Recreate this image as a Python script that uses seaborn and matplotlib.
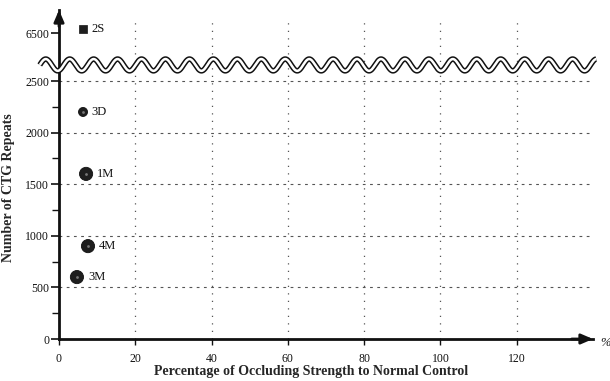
import numpy as np
import pandas as pd
import matplotlib
matplotlib.use("Agg")
import matplotlib.pyplot as plt
import seaborn as sns

# ---- data ----
labels_circ = ["3D", "1M", "4M", "3M"]
pct_circ = [6.3, 7.1, 7.6, 4.7]
ctg_circ = [2200, 1600, 900, 600]
size_circ = [42, 90, 90, 90]

labels_sq = ["2S"]
pct_sq = [6.3]
ctg_sq = [6540]

yticks_major = [0, 500, 1000, 1500, 2000, 2500, 6500]
yticks_minor = [250, 750, 1250, 1750, 2250]
xticks = [0, 20, 40, 60, 80, 100, 120]

# ---- broken y scale ----
B0, B1, GAP = 2600.0, 6350.0, 215.0
S = GAP / (B1 - B0)

def fwd(y):
    y = np.asarray(y, float)
    return np.where(y <= B0, y, np.where(y <= B1, B0 + (y - B0) * S, B0 + GAP + (y - B1)))

def inv(v):
    v = np.asarray(v, float)
    return np.where(v <= B0, v, np.where(v <= B0 + GAP, B0 + (v - B0) / S, B1 + (v - B0 - GAP)))

sns.set_style("ticks")
plt.rcParams['font.family'] = ['Liberation Serif', 'DejaVu Serif']

fig = plt.figure(figsize=(6.10, 3.81), dpi=100)
ax = fig.add_axes([59/610, 1-339/381, 534/610, 329/381])

df_c = pd.DataFrame({"pct": pct_circ, "ctg": ctg_circ, "lab": labels_circ, "sz": size_circ})
df_s = pd.DataFrame({"pct": pct_sq, "ctg": ctg_sq, "lab": labels_sq})

ax.set_yscale('function', functions=(fwd, inv))
ax.set_xlim(0, 140)
ax.set_ylim(0, float(inv(3188)))

sns.scatterplot(data=df_c, x="pct", y="ctg", size="sz", sizes=(42, 90), color="#1e1e1e",
                edgecolor="#111111", linewidth=0.6, legend=False, ax=ax, zorder=5)
sns.scatterplot(data=df_s, x="pct", y="ctg", marker="s", s=36, color="#1e1e1e",
                edgecolor="#111111", legend=False, ax=ax, zorder=5)
# halftone centers
ax.scatter(df_c["pct"], df_c["ctg"], s=4, color="#777777", zorder=6, linewidths=0)

for x, y, t, sz in zip(pct_circ, ctg_circ, labels_circ, size_circ):
    off = 8 if sz < 60 else 11
    ax.annotate(t, (x, y), xytext=(off, 0), textcoords="offset pixels",
                ha="left", va="center", fontsize=9, color="#111")
for x, y, t in zip(pct_sq, ctg_sq, labels_sq):
    ax.annotate(t, (x, y), xytext=(8, 0), textcoords="offset pixels",
                ha="left", va="center", fontsize=9, color="#111")

ax.set_xticks(xticks)
ax.set_yticks(yticks_major)
ax.set_yticks(yticks_minor, minor=True)
ax.set_xticklabels([str(v) for v in xticks])
ax.set_yticklabels([str(v) for v in yticks_major])
ax.tick_params(axis='y', which='major', length=6, width=1.2, labelsize=8.5, pad=1, color="#111")
ax.tick_params(axis='y', which='minor', length=5, width=1.0, color="#111")
ax.tick_params(axis='x', which='major', length=4, width=1.0, labelsize=8.5, pad=6, color="#111")
ax.tick_params(colors="#111")

for s in ["top", "right"]:
    ax.spines[s].set_visible(False)
for s in ["left", "bottom"]:
    ax.spines[s].set_linewidth(2.0)
    ax.spines[s].set_color("#111")

# gridlines
for y in yticks_major:
    if 0 < y <= 2500:
        ax.axhline(y, xmin=0, xmax=1.0, color="#555", lw=0.8, ls=(0, (2.5, 4)), zorder=1)
for x in xticks:
    if x > 0:
        ax.plot([x, x], [0, float(inv(3100))], color="#555", lw=0.9, ls=(0, (1, 5)), zorder=1)

# axis arrows
arrow_kw = dict(arrowstyle="-|>,head_length=0.7,head_width=0.3", color="#111", lw=2,
                shrinkA=0, shrinkB=0)
ax.annotate("", xy=(1.0, 0), xycoords="axes fraction", xytext=(0.96, 0),
            arrowprops=arrow_kw, annotation_clip=False)
ax.annotate("", xy=(0, 1.0), xycoords="axes fraction", xytext=(0, 0.95),
            arrowprops=arrow_kw, annotation_clip=False)

ax.text(1.0135, -0.012, "%", transform=ax.transAxes, ha="left", va="center",
        fontsize=9, style="italic", color="#111")

# wavy break line
xw = np.linspace(-0.036, 1.006, 1200)
yw = 0.833 + 0.018 * np.sin((xw + 0.036) * 2 * np.pi * 22.3)
ax.plot(xw, yw, transform=ax.transAxes, color="#111", lw=4.0, clip_on=False, zorder=10,
        solid_capstyle="butt")
ax.plot(xw, yw, transform=ax.transAxes, color="white", lw=1.8, clip_on=False, zorder=11,
        solid_capstyle="butt")

ax.set_xlabel("Percentage of Occluding Strength to Normal Control", fontsize=10,
              fontweight="bold")
ax.xaxis.set_label_coords(0.472, -0.078)
ax.set_ylabel("Number of CTG Repeats", fontsize=10, fontweight="bold")
ax.yaxis.set_label_coords(-0.083, 0.46)

fig.savefig("out.png", dpi=100)
